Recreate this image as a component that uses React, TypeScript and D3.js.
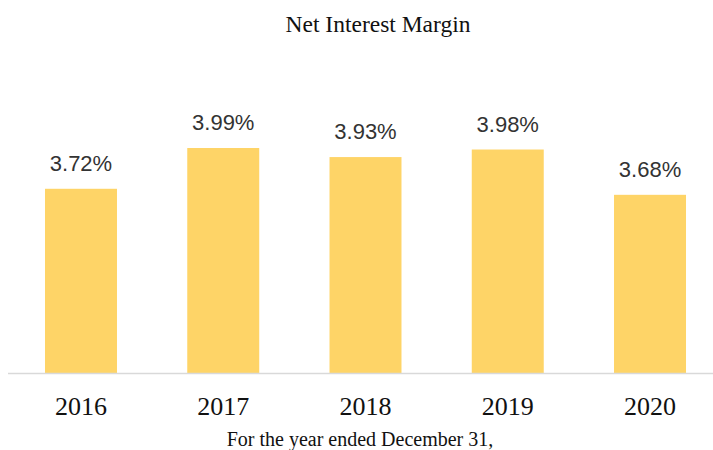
import React from "react";
import * as d3 from "d3";

const years = ["2016", "2017", "2018", "2019", "2020"];
const margins = [3.72, 3.99, 3.93, 3.98, 3.68];
const title = "Net Interest Margin";
const xTitle = "For the year ended December 31,";

const width = 713;
const height = 450;

export default function App() {
  const x = d3
    .scaleBand()
    .domain(years)
    .range([10, 721])
    .paddingInner(0.494)
    .paddingOuter(0.246);

  // value axis does not start at zero in the original
  const y = d3.scaleLinear().domain([2.5, 4.5]).range([373, 71]);

  return (
    <svg
      width={width}
      height={height}
      style={{ position: "absolute", left: 0, top: 0, background: "#fff" }}
    >
      <text
        x={378}
        y={32}
        textAnchor="middle"
        fontFamily="Liberation Serif"
        fontSize={23.5}
        fill="#111"
      >
        {title}
      </text>

      {years.map((yr, i) => (
        <rect
          key={yr}
          x={x(yr)}
          y={y(margins[i])}
          width={x.bandwidth()}
          height={y(2.5) - y(margins[i])}
          fill="#FED467"
        />
      ))}

      <line x1={8} x2={713} y1={373.5} y2={373.5} stroke="#d9d9d9" strokeWidth={1.5} />

      {years.map((yr, i) => (
        <text
          key={"v" + yr}
          x={x(yr)! + x.bandwidth() / 2}
          y={y(margins[i]) - 18}
          textAnchor="middle"
          fontFamily="Liberation Sans"
          fontSize={22}
          fill="#333"
        >
          {margins[i].toFixed(2) + "%"}
        </text>
      ))}

      {years.map((yr) => (
        <text
          key={"t" + yr}
          x={x(yr)! + x.bandwidth() / 2}
          y={415}
          textAnchor="middle"
          fontFamily="Liberation Serif"
          fontSize={26}
          fill="#111"
        >
          {yr}
        </text>
      ))}

      <text
        x={360}
        y={446}
        textAnchor="middle"
        fontFamily="Liberation Serif"
        fontSize={20}
        fill="#111"
      >
        {xTitle}
      </text>
    </svg>
  );
}
